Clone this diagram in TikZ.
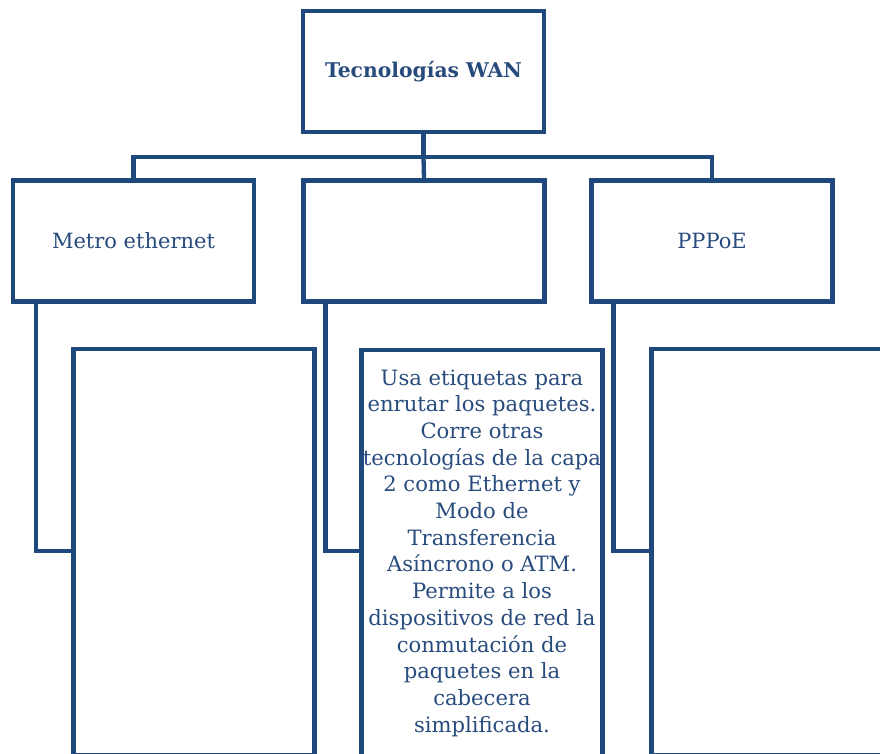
\documentclass[tikz,border=0pt]{standalone}
\usepackage{fontspec}
\setmainfont{DejaVu Serif}
\definecolor{wanblue}{RGB}{31,73,125}
\definecolor{wantext}{RGB}{40,75,125}
\begin{document}
\begin{tikzpicture}[x=1pt,y=-1pt,
  box/.style={draw=wanblue, line width=4.3pt, rectangle, inner sep=0pt, text=wantext,
    align=center, minimum width=241pt, minimum height=121pt},
  tallbox/.style={box, minimum height=406pt},
  link/.style={draw=wanblue, line width=4.3pt, line join=miter},
]
\useasboundingbox (0,0) rectangle (880,754);
\clip (0,0) rectangle (880,754);
% top
\node[box, font=\fontsize{20.3}{24}\selectfont\bfseries] (top) at (423.5,71.5) {Tecnologías WAN};
% level 2
\node[box, font=\fontsize{21}{25}\selectfont] (l2a) at (133.5,241) {Metro ethernet};
\node[box] (l2b) at (424,241) {};
\node[box, font=\fontsize{21}{25}\selectfont] (l2c) at (712,241) {PPPoE};
% level 3
\node[tallbox] (l3a) at (194,552) {};
\node[tallbox, font=\fontsize{21.1}{26.7}\selectfont] (l3b) at (482,553) {Usa etiquetas para\\enrutar los paquetes.\\Corre otras\\tecnologías de la capa\\2 como Ethernet y\\Modo de\\Transferencia\\Asíncrono o ATM.\\Permite a los\\dispositivos de red la\\conmutación de\\paquetes en la\\cabecera\\simplificada.};
\node[tallbox] (l3c) at (772,552) {};
% tree connectors
\coordinate (bus) at (423.5,157);
\draw[link] (top.south) -- (bus);
\draw[link] (l2a.north) |- (bus) -| (l2c.north);
\draw[link] (bus) -- (l2b.north);
% side connectors
\draw[link] ([xshift=25pt]l2a.south west) |- (l3a.west |- 0,551);
\draw[link] ([xshift=24pt]l2b.south west) |- (l3b.west |- 0,551);
\draw[link] ([xshift=24pt]l2c.south west) |- (l3c.west |- 0,551);
\end{tikzpicture}
\end{document}
